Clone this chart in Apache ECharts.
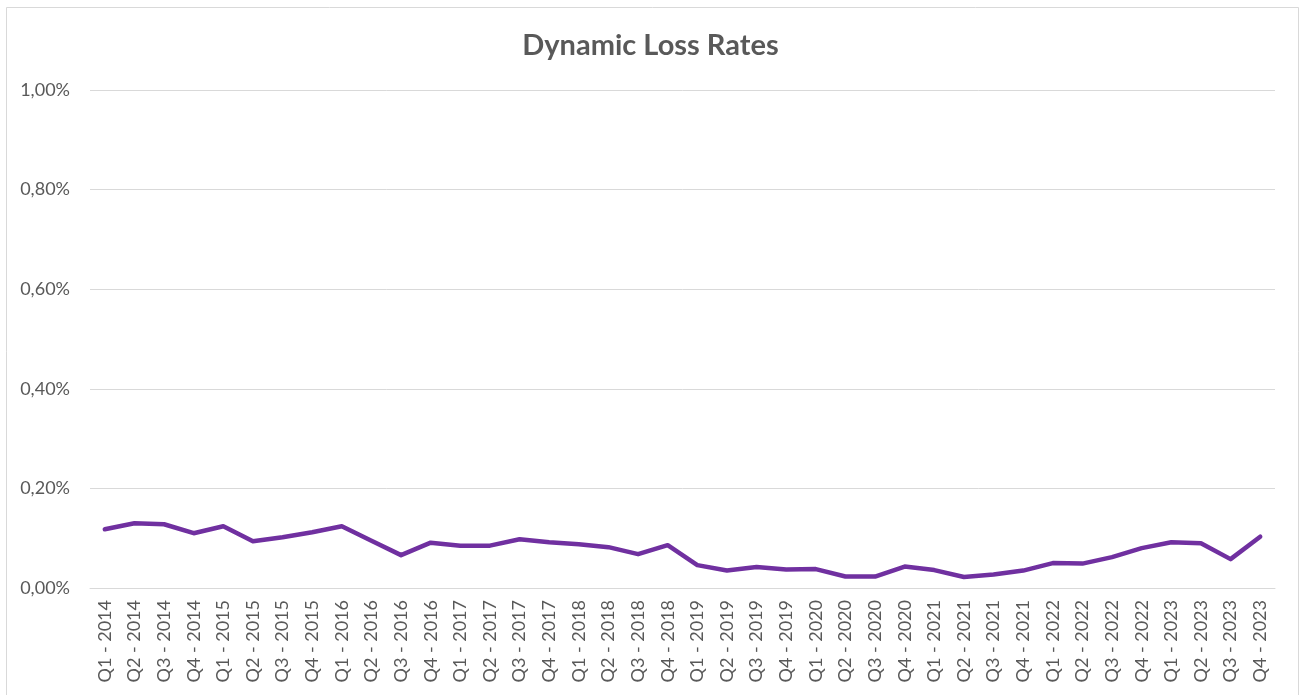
<!DOCTYPE html>
<html>
<head>
<meta charset="utf-8">
<script src="https://cdn.jsdelivr.net/npm/echarts@6/dist/echarts.min.js"></script>
<style>
html,body{margin:0;padding:0;background:#fff;}
#chart{width:1301px;height:695px;}
</style>
</head>
<body>
<div id="chart"></div>
<script>
const categories = [
  "Q1 - 2014","Q2 - 2014","Q3 - 2014","Q4 - 2014",
  "Q1 - 2015","Q2 - 2015","Q3 - 2015","Q4 - 2015",
  "Q1 - 2016","Q2 - 2016","Q3 - 2016","Q4 - 2016",
  "Q1 - 2017","Q2 - 2017","Q3 - 2017","Q4 - 2017",
  "Q1 - 2018","Q2 - 2018","Q3 - 2018","Q4 - 2018",
  "Q1 - 2019","Q2 - 2019","Q3 - 2019","Q4 - 2019",
  "Q1 - 2020","Q2 - 2020","Q3 - 2020","Q4 - 2020",
  "Q1 - 2021","Q2 - 2021","Q3 - 2021","Q4 - 2021",
  "Q1 - 2022","Q2 - 2022","Q3 - 2022","Q4 - 2022",
  "Q1 - 2023","Q2 - 2023","Q3 - 2023","Q4 - 2023"
];
// values in percent
const lossRates = [
  0.118, 0.130, 0.128, 0.110,
  0.124, 0.094, 0.102, 0.112,
  0.124, 0.095, 0.066, 0.091,
  0.085, 0.085, 0.098, 0.092,
  0.088, 0.082, 0.068, 0.086,
  0.046, 0.035, 0.042, 0.037,
  0.038, 0.023, 0.023, 0.043,
  0.036, 0.022, 0.027, 0.035,
  0.050, 0.049, 0.062, 0.080,
  0.092, 0.090, 0.058, 0.103
];
const yMin = 0, yMax = 1.0, yStep = 0.2;

const chart = echarts.init(document.getElementById('chart'));
chart.setOption({
  animation: false,
  backgroundColor: '#ffffff',
  title: {
    text: 'Dynamic Loss Rates',
    left: 'center',
    top: 26,
    textStyle: {fontFamily: 'Lato', fontWeight: 'bold', fontSize: 29, color: '#595959'}
  },
  graphic: [{
    type: 'rect', left: 4, top: 5,
    shape: {width: 1292, height: 700},
    style: {fill: 'none', stroke: '#d9d9d9', lineWidth: 1}
  }],
  grid: {left: 90, right: 26, top: 90, bottom: 107, containLabel: false},
  xAxis: {
    type: 'category',
    data: categories,
    boundaryGap: true,
    axisLine: {show: true, lineStyle: {color: '#d9d9d9', width: 1}},
    axisTick: {show: false},
    axisLabel: {rotate: 90, interval: 0, fontFamily: 'Lato', fontSize: 18, color: '#595959', margin: 12}
  },
  yAxis: {
    type: 'value',
    min: yMin, max: yMax, interval: yStep,
    axisLine: {show: false},
    axisTick: {show: false},
    splitLine: {lineStyle: {color: '#d9d9d9', width: 1}},
    axisLabel: {
      fontFamily: 'Lato', fontSize: 18, color: '#595959', margin: 20,
      formatter: v => v.toFixed(2).replace('.', ',') + '%'
    }
  },
  series: [{
    type: 'line',
    data: lossRates,
    symbol: 'none',
    lineStyle: {color: '#7030A0', width: 4.5, join: 'round', cap: 'round'},
    itemStyle: {color: '#7030A0'}
  }]
});
</script>
</body>
</html>
